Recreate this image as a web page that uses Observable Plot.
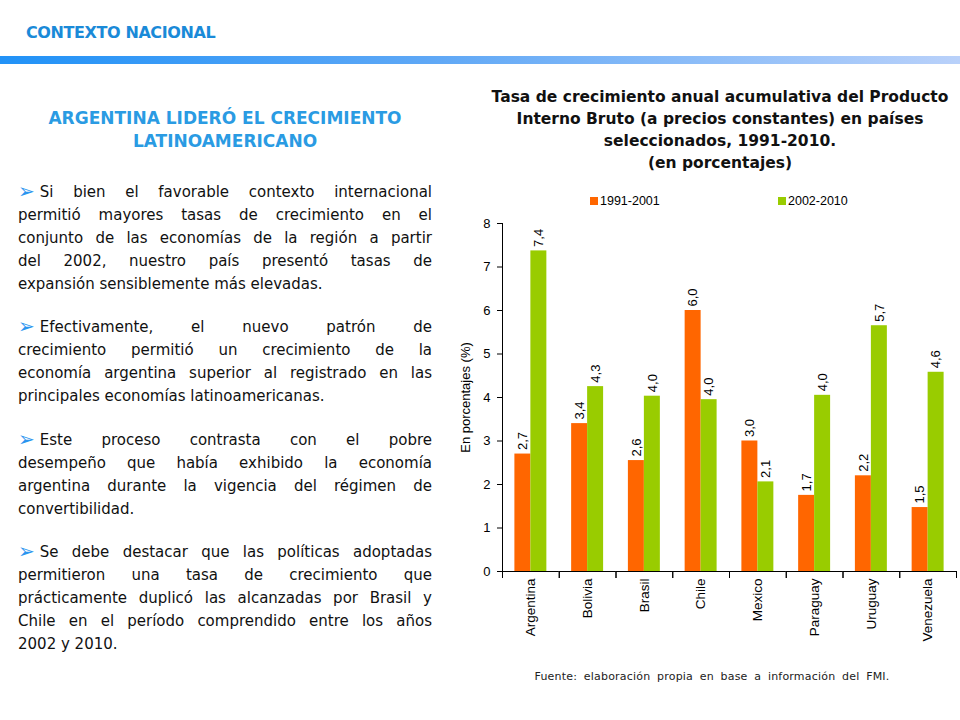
<!DOCTYPE html>
<html>
<head>
<meta charset="utf-8">
<script src="https://cdn.jsdelivr.net/npm/d3@7"></script>
<script src="https://cdn.jsdelivr.net/npm/@observablehq/plot@0.6"></script>
<style>
  html, body { margin: 0; padding: 0; background: #fff; }
  body { width: 960px; height: 720px; position: relative; overflow: hidden; font-family: "DejaVu Sans", sans-serif; }
  .abs { position: absolute; }
  #hdr { left: 26px; top: 23px; font-size: 16px; font-weight: bold; color: #1a8ad8; letter-spacing: -0.4px; white-space: nowrap; }
  #bar { left: 0; top: 56px; width: 960px; height: 8px; background: linear-gradient(to right, #2192f7 0%, #5fa8f6 45%, #b9d1fa 100%); }
  #heading { left: 18px; top: 107px; width: 414px; text-align: center; font-size: 17px; font-weight: bold; color: #2a9be3; line-height: 23px; white-space: nowrap; }
  .para { left: 18px; width: 414px; font-size: 15px; line-height: 23px; color: #111; }
  .ln { white-space: nowrap; text-align: justify; text-align-last: justify; }
  .ln.last { text-align-last: left; }
  .arrow { display: inline-block; color: #2a95ef; font-size: 20px; line-height: 18px; margin-right: 5px; vertical-align: -1px; }
  #title { left: 470px; top: 86px; width: 500px; text-align: center; font-size: 15.5px; font-weight: bold; line-height: 22px; color: #111; white-space: nowrap; }
  .lgi { position: absolute; top: 194px; font-family: "Liberation Sans", Arial, sans-serif; font-size: 12.5px; color: #000; white-space: nowrap; }
  .sw { display: inline-block; width: 8px; height: 8px; margin-right: 2px; vertical-align: 0px; }
  #plot { left: 450px; top: 190px; }
  #src { left: 462px; top: 670px; width: 500px; text-align: center; font-size: 11px; letter-spacing: 0.2px; color: #222; word-spacing: 3px; white-space: nowrap; }
</style>
</head>
<body>
<div id="hdr" class="abs">CONTEXTO NACIONAL</div>
<div id="bar" class="abs"></div>
<div id="heading" class="abs">ARGENTINA LIDERÓ EL CRECIMIENTO<br>LATINOAMERICANO</div>
<div id="paras"></div>
<div id="title" class="abs">Tasa de crecimiento anual acumulativa del Producto<br>Interno Bruto (a precios constantes) en países<br>seleccionados, 1991-2010.<br>(en porcentajes)</div>
<div id="legend"></div>
<div id="plot" class="abs"></div>
<div id="src" class="abs">Fuente: elaboración propia en base a información del FMI.</div>
<script>
// ---- data ----
const countries = ["Argentina", "Bolivia", "Brasil", "Chile", "Mexico", "Paraguay", "Uruguay", "Venezuela"];
const series = ["1991-2001", "2002-2010"];
const values1991 = [2.7, 3.4, 2.55, 6.0, 3.0, 1.75, 2.2, 1.47];
const values2002 = [7.37, 4.25, 4.03, 3.95, 2.06, 4.05, 5.65, 4.58];
const labels1991 = ["2,7", "3,4", "2,6", "6,0", "3,0", "1,7", "2,2", "1,5"];
const labels2002 = ["7,4", "4,3", "4,0", "4,0", "2,1", "4,0", "5,7", "4,6"];
const colors = ["#ff6600", "#99cc00"];
const yTicks = [0, 1, 2, 3, 4, 5, 6, 7, 8];

const paragraphs = [
  ["Si bien el favorable contexto internacional",
   "permitió mayores tasas de crecimiento en el",
   "conjunto de las economías de la región a partir",
   "del 2002, nuestro país presentó tasas de",
   "expansión sensiblemente más elevadas."],
  ["Efectivamente, el nuevo patrón de",
   "crecimiento permitió un crecimiento de la",
   "economía argentina superior al registrado en las",
   "principales economías latinoamericanas."],
  ["Este proceso contrasta con el pobre",
   "desempeño que había exhibido la economía",
   "argentina durante la vigencia del régimen de",
   "convertibilidad."],
  ["Se debe destacar que las políticas adoptadas",
   "permitieron una tasa de crecimiento que",
   "prácticamente duplicó las alcanzadas por Brasil y",
   "Chile en el período comprendido entre los años",
   "2002 y 2010."]
];
const paraTops = [181, 316, 429, 541];

// ---- left text ----
const paraHost = document.getElementById("paras");
paragraphs.forEach((lines, i) => {
  const p = document.createElement("div");
  p.className = "abs para";
  p.style.top = paraTops[i] + "px";
  lines.forEach((t, j) => {
    const d = document.createElement("div");
    d.className = "ln" + (j === lines.length - 1 ? " last" : "");
    if (j === 0) {
      const a = document.createElement("span");
      a.className = "arrow";
      a.textContent = "➢";
      d.appendChild(a);
      d.appendChild(document.createTextNode(t));
    } else {
      d.textContent = t;
    }
    p.appendChild(d);
  });
  paraHost.appendChild(p);
});

// ---- legend ----
const lg = document.getElementById("legend");
const legendLeft = [590, 778];
series.forEach((s, i) => {
  const it = document.createElement("div");
  it.className = "lgi";
  it.style.left = legendLeft[i] + "px";
  it.innerHTML = `<span class="sw" style="background:${colors[i]}"></span>${s}`;
  lg.appendChild(it);
});

// ---- table ----
const table = [];
countries.forEach((c, i) => {
  table.push({country: c, series: series[0], value: values1991[i], label: labels1991[i]});
  table.push({country: c, series: series[1], value: values2002[i], label: labels2002[i]});
});

const font = "Liberation Sans, Arial, sans-serif";
const fs = 13;
const chart = Plot.plot({
  width: 510,
  height: 460,
  marginLeft: 52,
  marginRight: 4,
  marginTop: 33,
  marginBottom: 79,
  style: {fontFamily: font, fontSize: fs + "px", color: "#000", background: "transparent"},
  fx: {domain: countries, padding: 0, round: false, label: null},
  x: {domain: series, padding: 0, paddingInner: 0, paddingOuter: 0.775, round: false, axis: null},
  y: {domain: [0, 8], label: null},
  color: {domain: series, range: colors},
  marks: [
    Plot.barY(table, {fx: "country", x: "series", y: "value", fill: "series"}),
    Plot.text(table, {fx: "country", x: "series", y: "value", text: "label", rotate: -90, textAnchor: "start", lineAnchor: "middle", dy: -4, fill: "#000", fontSize: fs}),
    Plot.ruleY([0], {stroke: "#000", strokeWidth: 1}),
    Plot.frame({anchor: "left", stroke: "#000", insetTop: 348, insetBottom: -6}),
    Plot.frame({anchor: "right", stroke: "#000", insetTop: 348, insetBottom: -6}),
    Plot.frame({anchor: "left", stroke: "#000", facetAnchor: "left"}),
    Plot.axisY({ticks: yTicks, tickSize: 5, tickPadding: 7, label: null, stroke: "#000", fontSize: fs}),
    Plot.axisFx({anchor: "bottom", tickSize: 0, tickPadding: 7, tickRotate: -90, label: null, fontSize: 13.5}),
    Plot.text(["En porcentajes (%)"], {frameAnchor: "left", textAnchor: "middle", rotate: -90, dx: -37, fontSize: fs, facetAnchor: "left"})
  ]
});
document.getElementById("plot").appendChild(chart);
</script>
</body>
</html>
